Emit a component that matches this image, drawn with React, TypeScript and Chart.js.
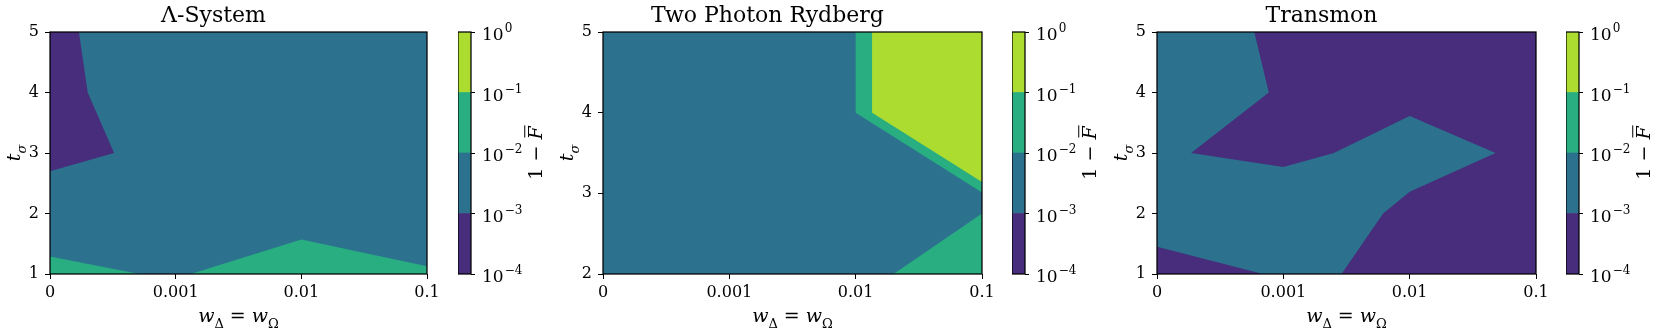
import React, { useEffect, useRef } from 'react';
import { Chart, registerables } from 'chart.js';

Chart.register(...registerables);

// ---------------- data ----------------
const X_TICK_LABELS = ['0', '0.001', '0.01', '0.1'];
const X_RANGE = [0, 3];
const CB_LEVELS = [1e-4, 1e-3, 1e-2, 1e-1, 1];
const CB_TICK_BASE = '10';
const CB_TICK_EXPONENTS = ['−4', '−3', '−2', '−1', '0'];
const LEVEL_COLORS = ['#472d7b', '#2c728e', '#28ae80', '#addc30'];

const TITLES = ['Λ-System', 'Two Photon Rydberg', 'Transmon'];
const Y_RANGES = [
  [1, 5],
  [2, 5],
  [1, 5],
];

type Pt = [number, number];

// Λ-System: background band = 1 (10^-3..10^-2)
const LAMBDA_BG_LEVEL = 1;
const LAMBDA_PURPLE: Pt[] = [[0, 5], [0.23, 5], [0.3, 4], [0.51, 3], [0, 2.7]];
const LAMBDA_GREEN_LEFT: Pt[] = [[0, 1], [0, 1.29], [0.71, 1]];
const LAMBDA_GREEN_RIGHT: Pt[] = [[1.12, 1], [2, 1.57], [3, 1.13], [3, 1]];

// Two Photon Rydberg: background band = 1
const RYD_BG_LEVEL = 1;
const RYD_GREEN_TOP: Pt[] = [[2.0, 5], [3, 5], [3, 3.01], [2.0, 4.0]];
const RYD_YELLOW: Pt[] = [[2.13, 5], [3, 5], [3, 3.14], [2.13, 4.0]];
const RYD_GREEN_BOTTOM: Pt[] = [[2.3, 2], [3, 2.75], [3, 2]];

// Transmon: background band = 0
const TRANS_BG_LEVEL = 0;
const TRANS_TEAL: Pt[] = [
  [0, 5], [0.77, 5], [0.885, 4], [0.27, 3], [1.0, 2.77], [1.4, 3], [2.0, 3.61],
  [2.68, 3], [2.0, 2.36], [1.79, 2.0], [1.46, 1], [0.84, 1], [0, 1.45],
];

interface Region { level: number; pts: Pt[] }
const PANEL_REGIONS: Region[][] = [
  [
    { level: 0, pts: LAMBDA_PURPLE },
    { level: 2, pts: LAMBDA_GREEN_LEFT },
    { level: 2, pts: LAMBDA_GREEN_RIGHT },
  ],
  [
    { level: 2, pts: RYD_GREEN_TOP },
    { level: 3, pts: RYD_YELLOW },
    { level: 2, pts: RYD_GREEN_BOTTOM },
  ],
  [{ level: 1, pts: TRANS_TEAL }],
];
const PANEL_BG = [LAMBDA_BG_LEVEL, RYD_BG_LEVEL, TRANS_BG_LEVEL];

// ---------------- layout / style ----------------
const H = 332;
const PLOT_TOP = 32;
const PLOT_BOTTOM = 274;
const PLOT_LEFTS = [50, 603, 1157];
const PLOT_WIDTHS = [377, 379, 379];
const CB_LEFTS = [458, 1012, 1566];
const CB_WIDTH = 13;
const Y_AXIS_W = 50;
const RIGHT_PAD = 24;
const CB_CANVAS_W = 93;
const FONT = '"DejaVu Serif", "Liberation Serif", serif';

type Run = { t: string; italic?: boolean; sub?: boolean; over?: boolean };

function drawRuns(ctx: CanvasRenderingContext2D, runs: Run[], cx: number, cy: number, size: number, rotate: boolean) {
  ctx.save();
  ctx.translate(cx, cy);
  if (rotate) ctx.rotate(-Math.PI / 2);
  const subSize = Math.round(size * 0.7);
  const fontFor = (r: Run) => `${r.italic ? 'italic ' : ''}${r.sub ? subSize : size}px ${FONT}`;
  let total = 0;
  const widths = runs.map((r) => {
    ctx.font = fontFor(r);
    const w = ctx.measureText(r.t).width;
    total += w;
    return w;
  });
  let x = -total / 2;
  const base = size * 0.36;
  ctx.fillStyle = '#000';
  ctx.strokeStyle = '#000';
  ctx.textBaseline = 'alphabetic';
  ctx.textAlign = 'left';
  runs.forEach((r, i) => {
    ctx.font = fontFor(r);
    const y = base + (r.sub ? size * 0.3 : 0);
    ctx.fillText(r.t, x, y);
    if (r.over) {
      const oy = base - size * 0.9;
      ctx.beginPath();
      ctx.lineWidth = 1;
      ctx.moveTo(x + 2, oy);
      ctx.lineTo(x + widths[i] + 1, oy);
      ctx.stroke();
    }
    x += widths[i];
  });
  ctx.restore();
}

const X_LABEL: Run[] = [
  { t: 'w', italic: true },
  { t: 'Δ', sub: true },
  { t: ' = ' },
  { t: 'w', italic: true },
  { t: 'Ω', sub: true },
];
const Y_LABEL: Run[] = [
  { t: 't', italic: true },
  { t: 'σ', italic: true, sub: true },
];
const CB_LABEL: Run[] = [{ t: '1 − ' }, { t: 'F', italic: true, over: true }];

const framePlugin = {
  id: 'frame',
  afterDatasetsDraw(chart: any) {
    const { ctx, chartArea: a } = chart;
    ctx.save();
    ctx.strokeStyle = '#000';
    ctx.lineWidth = 1.25;
    ctx.strokeRect(a.left, a.top, a.right - a.left, a.bottom - a.top);
    ctx.restore();
  },
};

const mainLabelsPlugin = {
  id: 'mainLabels',
  afterDraw(chart: any) {
    const { ctx, chartArea: a } = chart;
    drawRuns(ctx, X_LABEL, (a.left + a.right) / 2, a.bottom + 41, 19, false);
    drawRuns(ctx, Y_LABEL, a.left - 37, (a.top + a.bottom) / 2, 19, true);
  },
};

const cbLabelPlugin = {
  id: 'cbLabel',
  afterDraw(chart: any) {
    const { ctx, chartArea: a } = chart;
    drawRuns(ctx, CB_LABEL, a.right + 64, (a.top + a.bottom) / 2, 19, true);
    // decade tick labels, placed through the colorbar's log scale
    const s = chart.scales.y;
    ctx.save();
    ctx.fillStyle = '#000';
    ctx.textAlign = 'left';
    ctx.textBaseline = 'alphabetic';
    CB_LEVELS.forEach((v, i) => {
      const y = s.getPixelForValue(v);
      const x0 = a.right + 11;
      ctx.font = `17px ${FONT}`;
      const baseY = y + 8;
      ctx.fillText(CB_TICK_BASE, x0, baseY);
      const w = ctx.measureText(CB_TICK_BASE).width;
      ctx.font = `12px ${FONT}`;
      ctx.fillText(CB_TICK_EXPONENTS[i], x0 + w + 1, baseY - 8);
    });
    ctx.restore();
  },
};

function mainConfig(p: number): any {
  const [yMin, yMax] = Y_RANGES[p];
  const bg: Region = {
    level: PANEL_BG[p],
    pts: [[X_RANGE[0], yMin], [X_RANGE[1], yMin], [X_RANGE[1], yMax], [X_RANGE[0], yMax]],
  };
  const regions = [bg, ...PANEL_REGIONS[p]];
  const n = regions.length;
  return {
    type: 'line',
    data: {
      datasets: regions.map((r, i) => ({
        data: r.pts.map(([x, y]) => ({ x, y })),
        backgroundColor: LEVEL_COLORS[r.level],
        borderColor: LEVEL_COLORS[r.level],
        borderWidth: 0,
        pointRadius: 0,
        pointHoverRadius: 0,
        fill: 'shape',
        tension: 0,
        order: n - i,
      })),
    },
    plugins: [framePlugin, mainLabelsPlugin],
    options: {
      responsive: false,
      animation: false,
      events: [],
      layout: { padding: { left: 0, right: RIGHT_PAD, top: 0, bottom: 0 } },
      plugins: {
        legend: { display: false },
        tooltip: { enabled: false },
        title: {
          display: true,
          text: TITLES[p],
          color: '#000',
          font: { family: FONT, size: 22, weight: 'normal', lineHeight: '26px' },
          padding: { top: 3, bottom: 3 },
        },
      },
      scales: {
        x: {
          type: 'linear',
          min: X_RANGE[0],
          max: X_RANGE[1],
          afterFit: (s: any) => { s.height = H - PLOT_BOTTOM; },
          ticks: {
            stepSize: 1,
            autoSkip: false,
            maxRotation: 0,
            padding: 4,
            color: '#000',
            font: { family: FONT, size: 16 },
            callback: (v: number) => X_TICK_LABELS[Math.round(v)] ?? '',
          },
          grid: { drawOnChartArea: false, drawTicks: true, tickLength: 5, color: '#000', tickWidth: 1 },
          border: { display: false },
        },
        y: {
          type: 'linear',
          min: yMin,
          max: yMax,
          afterFit: (s: any) => { s.width = Y_AXIS_W; },
          ticks: {
            stepSize: 1,
            padding: 6,
            color: '#000',
            font: { family: FONT, size: 16 },
          },
          grid: { drawOnChartArea: false, drawTicks: true, tickLength: 5, color: '#000', tickWidth: 1 },
          border: { display: false },
        },
      },
    },
  };
}

function cbConfig(): any {
  return {
    type: 'bar',
    data: {
      labels: [''],
      datasets: LEVEL_COLORS.map((c, i) => ({
        data: [[CB_LEVELS[i], CB_LEVELS[i + 1]]],
        backgroundColor: c,
        borderWidth: 0,
        barPercentage: 1,
        categoryPercentage: 1,
        grouped: false,
      })),
    },
    plugins: [framePlugin, cbLabelPlugin],
    options: {
      responsive: false,
      animation: false,
      events: [],
      layout: { padding: { left: 0, right: 0, top: PLOT_TOP, bottom: H - PLOT_BOTTOM } },
      plugins: { legend: { display: false }, tooltip: { enabled: false }, title: { display: false } },
      scales: {
        x: { display: false },
        y: {
          type: 'logarithmic',
          position: 'right',
          min: CB_LEVELS[0],
          max: CB_LEVELS[CB_LEVELS.length - 1],
          afterBuildTicks: (s: any) => { s.ticks = CB_LEVELS.map((v) => ({ value: v })); },
          afterFit: (s: any) => { s.width = CB_CANVAS_W - CB_WIDTH; },
          ticks: { display: false },
          grid: { drawOnChartArea: false, drawTicks: true, tickLength: 4, color: '#000', tickWidth: 1 },
          border: { display: false },
        },
      },
    },
  };
}

function ChartCanvas({ left, width, make }: { left: number; width: number; make: () => any }) {
  const ref = useRef<HTMLCanvasElement>(null);
  useEffect(() => {
    const chart = new Chart(ref.current as HTMLCanvasElement, make());
    return () => chart.destroy();
  }, []);
  return (
    <canvas
      ref={ref}
      width={width}
      height={H}
      style={{ position: 'absolute', left, top: 0, width, height: H }}
    />
  );
}

export default function App() {
  return (
    <div style={{ position: 'absolute', left: 0, top: 0, width: 1661, height: H, background: '#fff' }}>
      {[0, 1, 2].map((p) => (
        <React.Fragment key={p}>
          <ChartCanvas
            left={PLOT_LEFTS[p] - Y_AXIS_W}
            width={Y_AXIS_W + PLOT_WIDTHS[p] + RIGHT_PAD}
            make={() => mainConfig(p)}
          />
          <ChartCanvas left={CB_LEFTS[p]} width={CB_CANVAS_W} make={() => cbConfig()} />
        </React.Fragment>
      ))}
    </div>
  );
}
